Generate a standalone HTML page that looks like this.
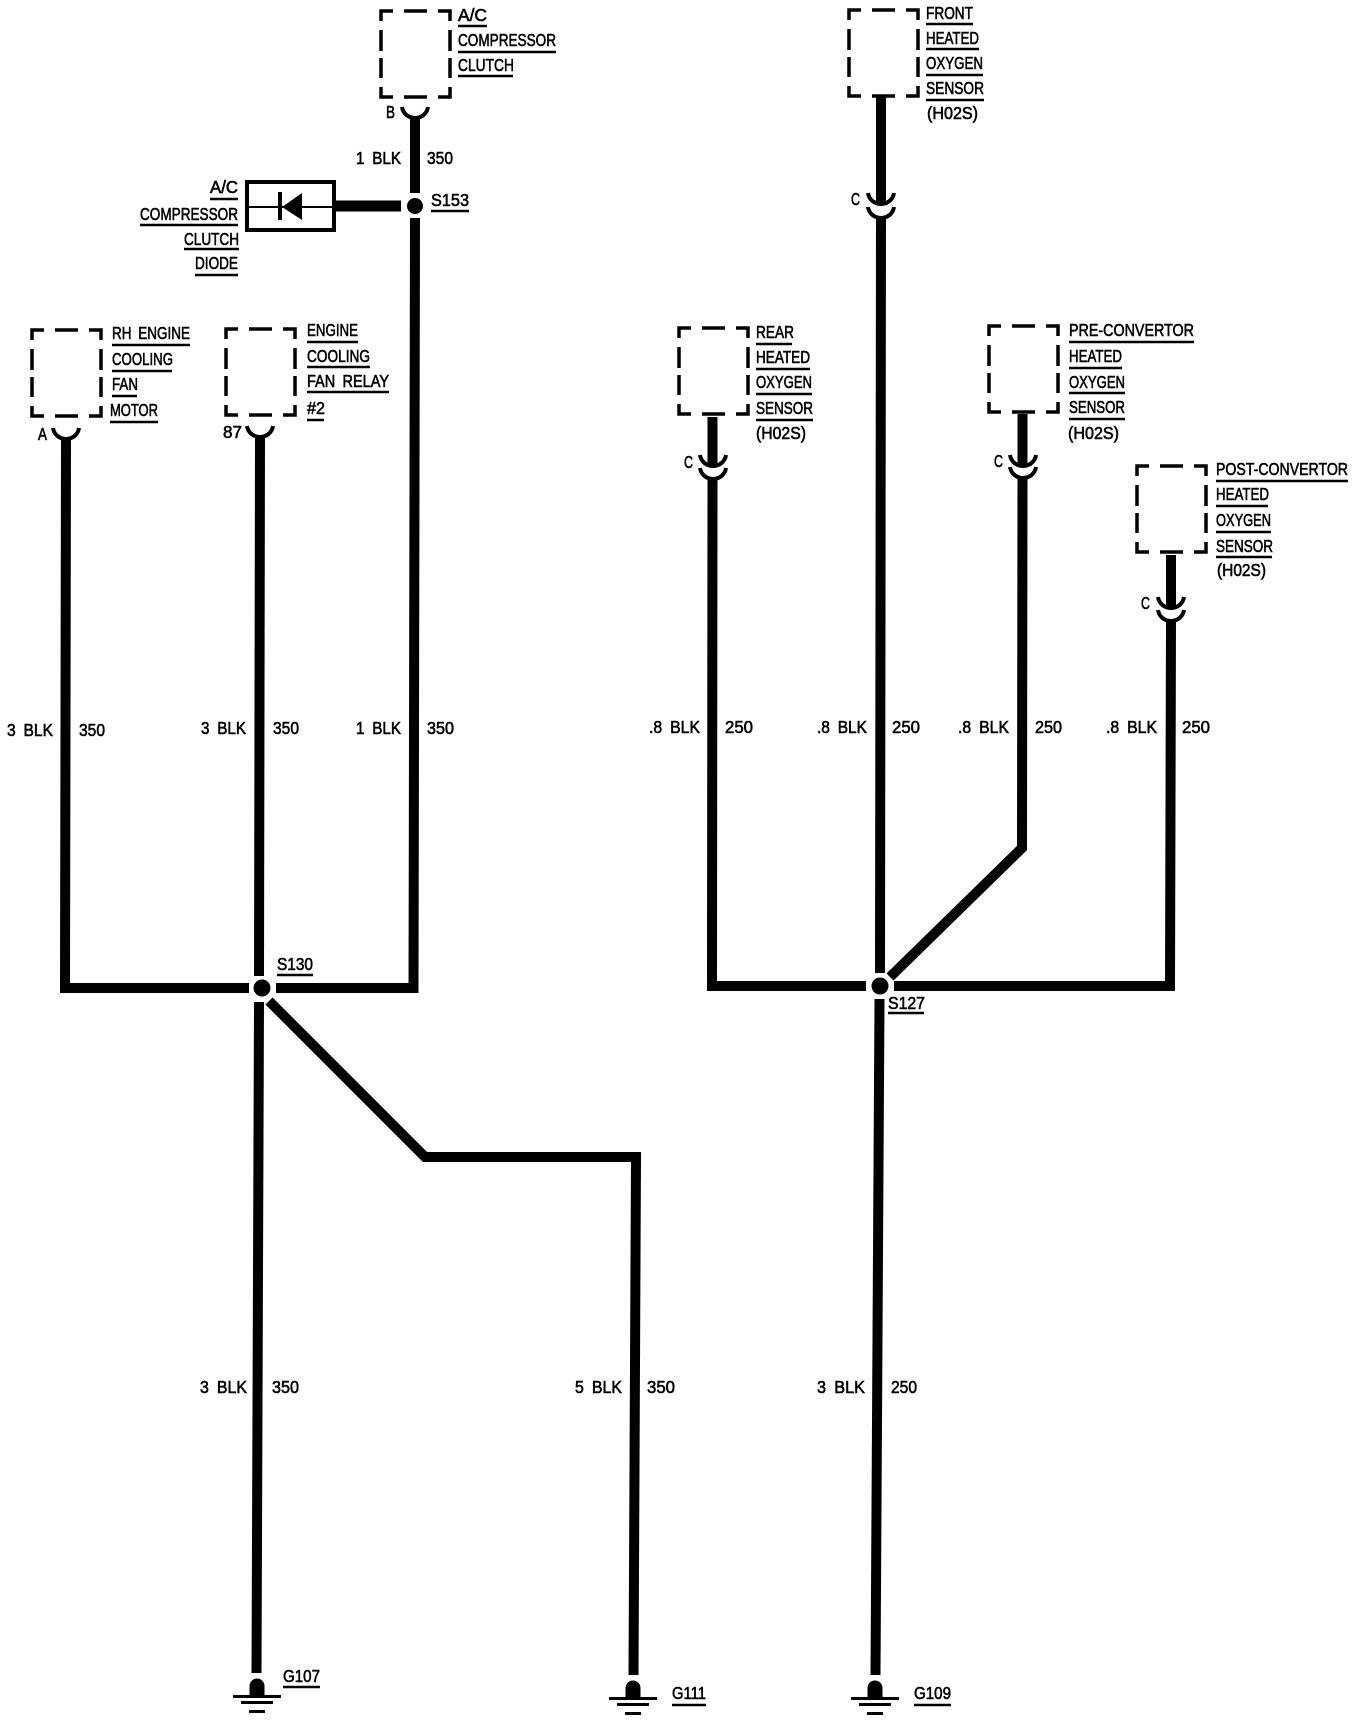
<!DOCTYPE html>
<html><head><meta charset="utf-8"><style>
html,body{margin:0;padding:0;background:#fff}
svg{display:block}
text{font-family:"Liberation Sans",sans-serif;font-size:17.5px;word-spacing:4px;fill:#000;stroke:#000;stroke-width:.6px}
.w{fill:none;stroke:#000;stroke-width:10;stroke-linejoin:miter}
.u{fill:none;stroke:#000;stroke-width:2.5}
.c{fill:none;stroke:#000;stroke-width:4}
</style></head><body>
<svg width="1360" height="1720" viewBox="0 0 1360 1720" xmlns="http://www.w3.org/2000/svg">
<rect width="1360" height="1720" fill="#fff"/>
<defs>
<path id="box" fill="none" stroke="#000" stroke-width="3.5" d="M0 10V0H12M23 0H46M57 0H69V10M0 19V40M0 47V67M69 19V40M69 47V67M0 76V86H12M23 86H46M57 86H69V76"/>
<path id="cup" fill="none" stroke="#000" stroke-width="4" d="M-13 0C-12 7-6 11 0 11C6 11 12 7 13 0"/>
<g id="gnd"><circle cx="0" cy="0" r="7.5" fill="#000"/><rect x="-7.5" y="0" width="15" height="9" fill="#000"/><rect x="-24" y="9" width="48" height="3" fill="#000"/><rect x="-16" y="15" width="32" height="3" fill="#000"/><rect x="-8" y="24" width="16" height="3" fill="#000"/></g>
</defs>

<!-- boxes -->
<use href="#box" x="381" y="11"/>
<use href="#box" x="32" y="330"/>
<use href="#box" x="226" y="329"/>
<use href="#box" x="849" y="10"/>
<use href="#box" x="679" y="328"/>
<use href="#box" x="989" y="326"/>
<use href="#box" x="1137" y="466"/>

<!-- left wires -->
<path class="w" d="M415 117V193"/>
<path class="w" d="M415 218L413.5 993"/>
<path class="w" style="stroke-width:11" d="M335 206H401"/>
<path class="w" d="M66 438L65 988H249"/>
<path class="w" d="M260 436L259 976"/>
<path class="w" d="M276 988H413.5"/>
<path class="w" d="M259 1002L256.5 1673"/>
<path class="w" d="M269 1001L425 1157H636L633.5 1675"/>
<circle cx="262" cy="988" r="8.5"/>
<circle cx="415" cy="206" r="8"/>

<!-- diode -->
<rect x="247" y="182" width="87" height="48" fill="none" stroke="#000" stroke-width="4"/>
<path d="M247 207H334" stroke="#000" stroke-width="2"/>
<path d="M282 207L302 193V220Z" fill="#000"/>
<path d="M280 192V220" stroke="#000" stroke-width="4"/>

<!-- cups, left -->
<use href="#cup" x="415" y="107"/>
<use href="#cup" x="66" y="428"/>
<use href="#cup" x="260" y="426"/>

<!-- right wires -->
<path class="w" d="M881 97V205"/>
<path class="w" d="M881 218L880 973"/>
<path class="w" d="M879.5 999L875.5 1675"/>
<path class="w" d="M712.5 417V466"/>
<path class="w" d="M712.5 479L712 986H866"/>
<path class="w" d="M1022.5 414V466"/>
<path class="w" d="M1022.5 478L1022 848L890 977"/>
<path class="w" d="M1171 555V609"/>
<path class="w" d="M1171 620L1170 986H894"/>
<circle cx="880" cy="986" r="8.5"/>

<!-- cups, right -->
<use href="#cup" x="881" y="193"/><use href="#cup" x="881" y="207"/>
<use href="#cup" x="713" y="455"/><use href="#cup" x="713" y="468"/>
<use href="#cup" x="1023" y="455"/><use href="#cup" x="1023" y="467"/>
<use href="#cup" x="1171" y="597"/><use href="#cup" x="1171" y="610"/>

<!-- grounds -->
<use href="#gnd" x="257" y="1686"/>
<use href="#gnd" x="633" y="1688"/>
<use href="#gnd" x="875" y="1688"/>

<!-- underlines -->
<path class="u" d="M458 26H487M458 52H556M458 76H513M431 211H469M210 199H238M140 225H238M184 249H239M195 275H238
M112 345H190M112 371H172M112 396H137M110 422H158M307 342H358M307 367H370M307 392H389M307 420H324
M277 975H313M926 24H973M926 49H979M926 75H983M926 100H984M756 344H792M756 369H810M756 394H812M756 420H813
M1069 342H1194M1069 368H1122M1069 393H1125M1069 419H1125M1216 481H1348M1216 506H1268M1216 532H1271M1216 557H1272
M888 1013H924M283 1687H320M672 1705H706M914 1705H951"/>

<!-- labels -->
<text x="458" y="21" textLength="29" lengthAdjust="spacingAndGlyphs">A/C</text>
<text x="458" y="46" textLength="98" lengthAdjust="spacingAndGlyphs">COMPRESSOR</text>
<text x="458" y="71" textLength="56" lengthAdjust="spacingAndGlyphs">CLUTCH</text>
<text x="386" y="118" textLength="9" lengthAdjust="spacingAndGlyphs">B</text>
<text x="356" y="164" textLength="45" lengthAdjust="spacingAndGlyphs">1 BLK</text>
<text x="427" y="164" textLength="26" lengthAdjust="spacingAndGlyphs">350</text>
<text x="431" y="206" textLength="38" lengthAdjust="spacingAndGlyphs">S153</text>
<text x="210" y="193" textLength="28" lengthAdjust="spacingAndGlyphs">A/C</text>
<text x="140" y="220" textLength="98" lengthAdjust="spacingAndGlyphs">COMPRESSOR</text>
<text x="184" y="245" textLength="55" lengthAdjust="spacingAndGlyphs">CLUTCH</text>
<text x="195" y="269" textLength="43" lengthAdjust="spacingAndGlyphs">DIODE</text>

<text x="112" y="339" textLength="78" lengthAdjust="spacingAndGlyphs">RH ENGINE</text>
<text x="112" y="365" textLength="61" lengthAdjust="spacingAndGlyphs">COOLING</text>
<text x="112" y="390" textLength="26" lengthAdjust="spacingAndGlyphs">FAN</text>
<text x="110" y="416" textLength="48" lengthAdjust="spacingAndGlyphs">MOTOR</text>
<text x="38" y="440" textLength="9" lengthAdjust="spacingAndGlyphs">A</text>
<text x="307" y="336" textLength="51" lengthAdjust="spacingAndGlyphs">ENGINE</text>
<text x="307" y="362" textLength="63" lengthAdjust="spacingAndGlyphs">COOLING</text>
<text x="307" y="387" textLength="82" lengthAdjust="spacingAndGlyphs">FAN RELAY</text>
<text x="307" y="414" textLength="18" lengthAdjust="spacingAndGlyphs">#2</text>
<text x="223" y="438" textLength="19" lengthAdjust="spacingAndGlyphs">87</text>

<text x="7" y="736" textLength="46" lengthAdjust="spacingAndGlyphs">3 BLK</text>
<text x="79" y="736" textLength="26" lengthAdjust="spacingAndGlyphs">350</text>
<text x="201" y="734" textLength="45" lengthAdjust="spacingAndGlyphs">3 BLK</text>
<text x="273" y="734" textLength="26" lengthAdjust="spacingAndGlyphs">350</text>
<text x="356" y="734" textLength="45" lengthAdjust="spacingAndGlyphs">1 BLK</text>
<text x="427" y="734" textLength="27" lengthAdjust="spacingAndGlyphs">350</text>
<text x="277" y="970" textLength="36" lengthAdjust="spacingAndGlyphs">S130</text>
<text x="200" y="1393" textLength="47" lengthAdjust="spacingAndGlyphs">3 BLK</text>
<text x="272" y="1393" textLength="27" lengthAdjust="spacingAndGlyphs">350</text>
<text x="575" y="1393" textLength="47" lengthAdjust="spacingAndGlyphs">5 BLK</text>
<text x="647" y="1393" textLength="28" lengthAdjust="spacingAndGlyphs">350</text>
<text x="817" y="1393" textLength="48" lengthAdjust="spacingAndGlyphs">3 BLK</text>
<text x="891" y="1393" textLength="26" lengthAdjust="spacingAndGlyphs">250</text>
<text x="283" y="1682" textLength="37" lengthAdjust="spacingAndGlyphs">G107</text>
<text x="672" y="1699" textLength="34" lengthAdjust="spacingAndGlyphs">G111</text>
<text x="914" y="1699" textLength="37" lengthAdjust="spacingAndGlyphs">G109</text>

<text x="926" y="19" textLength="47" lengthAdjust="spacingAndGlyphs">FRONT</text>
<text x="926" y="44" textLength="53" lengthAdjust="spacingAndGlyphs">HEATED</text>
<text x="926" y="69" textLength="57" lengthAdjust="spacingAndGlyphs">OXYGEN</text>
<text x="926" y="94" textLength="58" lengthAdjust="spacingAndGlyphs">SENSOR</text>
<text x="927" y="119" textLength="51" lengthAdjust="spacingAndGlyphs">(H02S)</text>
<text x="851" y="205" textLength="9" lengthAdjust="spacingAndGlyphs">C</text>

<text x="756" y="338" textLength="38" lengthAdjust="spacingAndGlyphs">REAR</text>
<text x="756" y="363" textLength="54" lengthAdjust="spacingAndGlyphs">HEATED</text>
<text x="756" y="388" textLength="56" lengthAdjust="spacingAndGlyphs">OXYGEN</text>
<text x="756" y="414" textLength="57" lengthAdjust="spacingAndGlyphs">SENSOR</text>
<text x="756" y="439" textLength="50" lengthAdjust="spacingAndGlyphs">(H02S)</text>
<text x="684" y="468" textLength="9" lengthAdjust="spacingAndGlyphs">C</text>

<text x="1069" y="336" textLength="125" lengthAdjust="spacingAndGlyphs">PRE-CONVERTOR</text>
<text x="1069" y="362" textLength="53" lengthAdjust="spacingAndGlyphs">HEATED</text>
<text x="1069" y="388" textLength="56" lengthAdjust="spacingAndGlyphs">OXYGEN</text>
<text x="1069" y="413" textLength="56" lengthAdjust="spacingAndGlyphs">SENSOR</text>
<text x="1068" y="439" textLength="51" lengthAdjust="spacingAndGlyphs">(H02S)</text>
<text x="994" y="467" textLength="9" lengthAdjust="spacingAndGlyphs">C</text>

<text x="1216" y="475" textLength="132" lengthAdjust="spacingAndGlyphs">POST-CONVERTOR</text>
<text x="1216" y="500" textLength="53" lengthAdjust="spacingAndGlyphs">HEATED</text>
<text x="1216" y="526" textLength="55" lengthAdjust="spacingAndGlyphs">OXYGEN</text>
<text x="1216" y="552" textLength="57" lengthAdjust="spacingAndGlyphs">SENSOR</text>
<text x="1217" y="576" textLength="49" lengthAdjust="spacingAndGlyphs">(H02S)</text>
<text x="1141" y="609" textLength="9" lengthAdjust="spacingAndGlyphs">C</text>

<text x="649" y="733" textLength="51" lengthAdjust="spacingAndGlyphs">.8 BLK</text>
<text x="725" y="733" textLength="28" lengthAdjust="spacingAndGlyphs">250</text>
<text x="817" y="733" textLength="50" lengthAdjust="spacingAndGlyphs">.8 BLK</text>
<text x="892" y="733" textLength="28" lengthAdjust="spacingAndGlyphs">250</text>
<text x="958" y="733" textLength="51" lengthAdjust="spacingAndGlyphs">.8 BLK</text>
<text x="1035" y="733" textLength="27" lengthAdjust="spacingAndGlyphs">250</text>
<text x="1106" y="733" textLength="51" lengthAdjust="spacingAndGlyphs">.8 BLK</text>
<text x="1182" y="733" textLength="28" lengthAdjust="spacingAndGlyphs">250</text>
<text x="888" y="1009" textLength="37" lengthAdjust="spacingAndGlyphs">S127</text>
</svg>
</body></html>
